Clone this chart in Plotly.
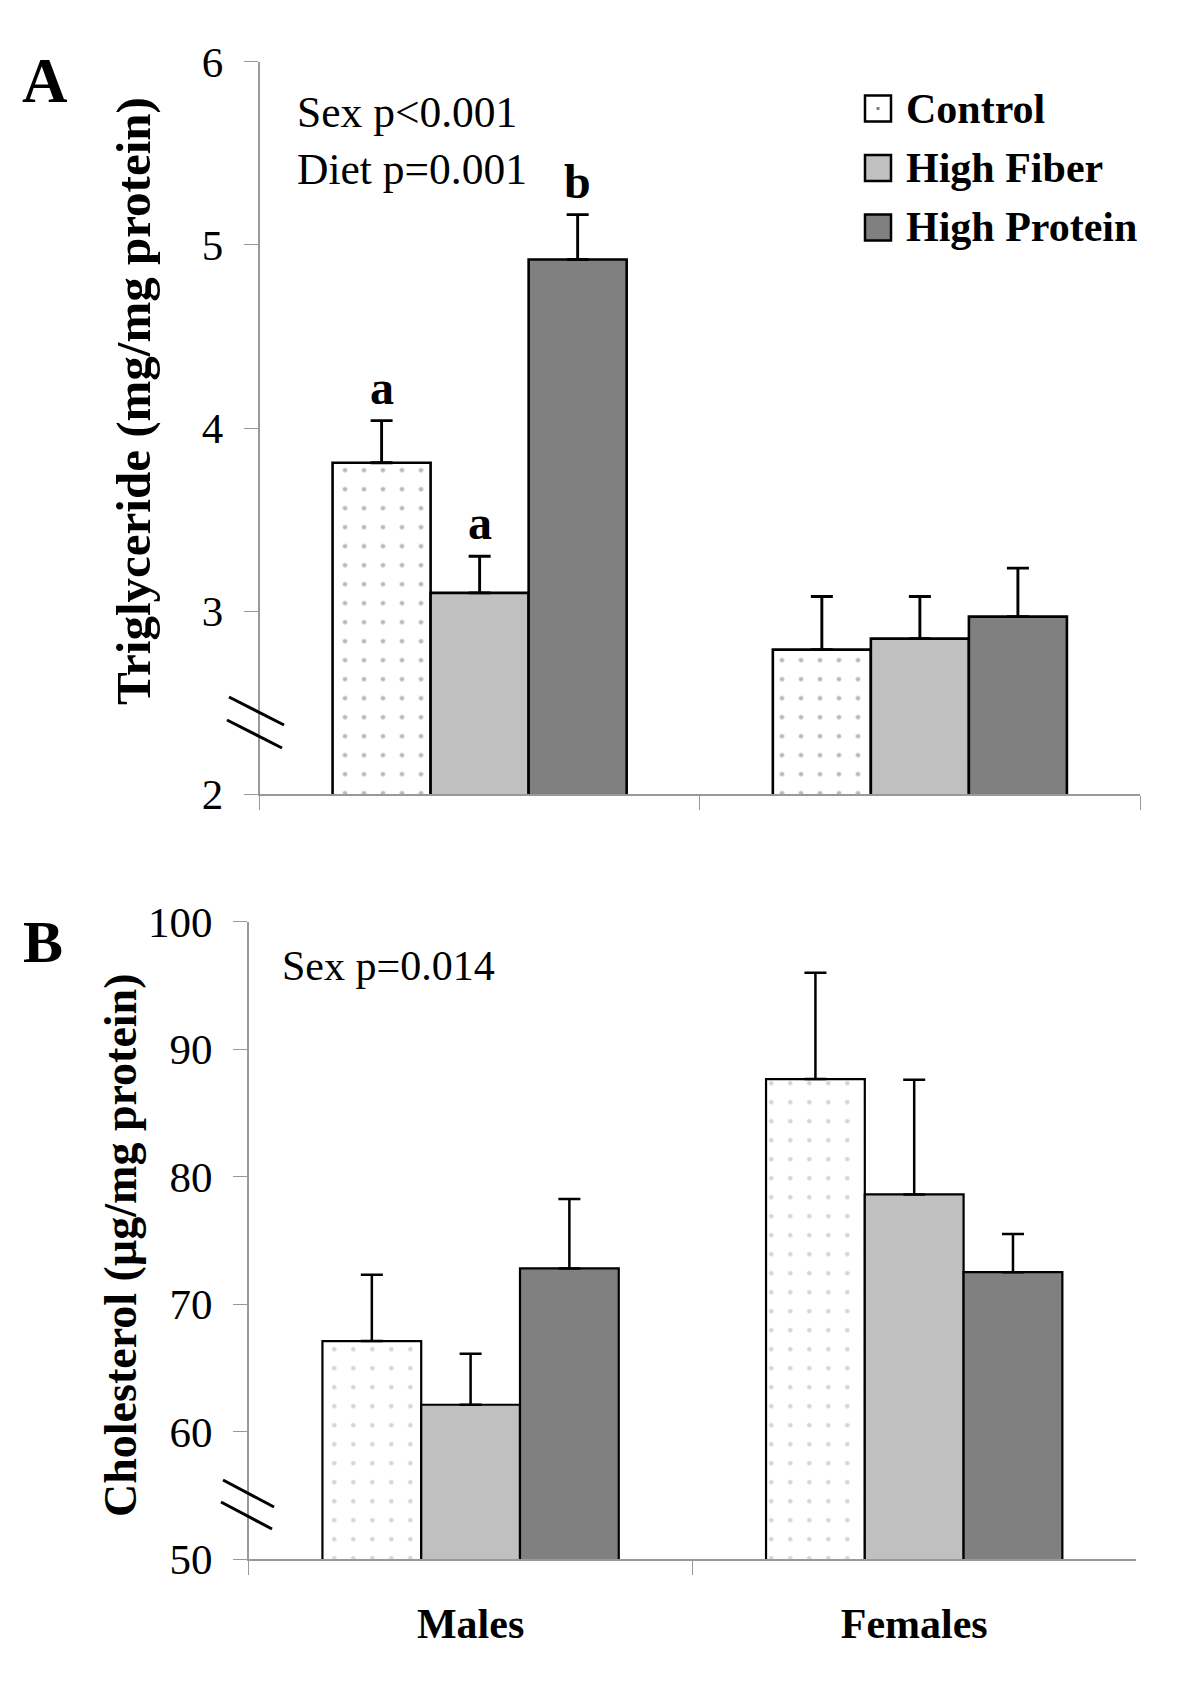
import plotly.graph_objects as go

# ---------------- data ----------------
sexes = ["Males", "Females"]
diets = ["Control", "High Fiber", "High Protein"]

# Panel A: Triglyceride (mg/mg protein)
tg_control = [3.81, 2.79]
tg_fiber = [3.10, 2.85]
tg_protein = [4.92, 2.97]
tg_control_err = [0.23, 0.29]
tg_fiber_err = [0.20, 0.23]
tg_protein_err = [0.245, 0.265]
tg_letters_males = ["a", "a", "b"]

# Panel B: Cholesterol (µg/mg protein)
ch_control = [67.1, 87.65]
ch_fiber = [62.1, 78.6]
ch_protein = [72.8, 72.5]
ch_control_err = [5.2, 8.35]
ch_fiber_err = [4.0, 9.0]
ch_protein_err = [5.45, 3.0]

tg_ticks = [2, 3, 4, 5, 6]
ch_ticks = [50, 60, 70, 80, 90, 100]

# ---------------- styling ----------------
W, H = 1200, 1691
OX, OY = 8, 8  # page body margin
SERIF = "Liberation Serif, Times New Roman, serif"
fills = ["white", "#c0c0c0", "#808080"]
AXIS_GRAY = "#999999"
BARGAP = 0.332


def px_x(p):
    return (p - OX) / W


def px_y(p):
    return 1 - (p - OY) / H


# panel geometry (pixels in the target picture)
A_x0, A_x1, A_ytop, A_ybot = 259.5, 1140.0, 61.7, 794.3
B_x0, B_x1, B_ytop, B_ybot = 248.8, 1136.0, 921.7, 1559.0

fig = go.Figure()

panelA = [(tg_control, tg_control_err), (tg_fiber, tg_fiber_err), (tg_protein, tg_protein_err)]
panelB = [(ch_control, ch_control_err), (ch_fiber, ch_fiber_err), (ch_protein, ch_protein_err)]

for panel, (xa, ya, lw, dotcol) in zip(
    [panelA, panelB], [("x", "y", 2.6, "#707070"), ("x2", "y2", 2.2, "#aaaaaa")]
):
    for i, (vals, errs) in enumerate(panel):
        marker = dict(color=fills[i], line=dict(color="black", width=lw))
        if i == 0:
            marker["pattern"] = dict(shape=".", fgcolor=dotcol, bgcolor="white",
                                     size=19, solidity=0.045)
        fig.add_trace(go.Bar(
            x=sexes, y=vals, name=diets[i], xaxis=xa, yaxis=ya,
            marker=marker, showlegend=False,
            error_y=dict(type="data", array=errs, arrayminus=[0] * len(errs),
                         symmetric=False, color="black", thickness=lw + 0.3, width=11),
        ))

axis_common = dict(showline=True, linecolor=AXIS_GRAY, linewidth=1.5,
                   ticks="outside", ticklen=14, tickcolor=AXIS_GRAY, tickwidth=1.2,
                   showgrid=False, zeroline=False, automargin=False)

fig.update_layout(
    width=W, height=H, autosize=False,
    margin=dict(l=0, r=0, t=0, b=0, autoexpand=False),
    paper_bgcolor="white", plot_bgcolor="white",
    barmode="group", bargap=BARGAP, bargroupgap=0,
    showlegend=False,
    font=dict(family=SERIF, color="black", size=40),
    xaxis=dict(domain=[px_x(A_x0), px_x(A_x1)], anchor="y", type="category",
               categoryorder="array", categoryarray=sexes,
               tickson="boundaries", showticklabels=False, **axis_common),
    yaxis=dict(domain=[px_y(A_ybot), px_y(A_ytop)], anchor="x", range=[2, 6],
               tickvals=tg_ticks, ticktext=[str(t) for t in tg_ticks],
               tickfont=dict(size=43, family=SERIF), ticklabelstandoff=12, **axis_common),
    xaxis2=dict(domain=[px_x(B_x0), px_x(B_x1)], anchor="y2", type="category",
                categoryorder="array", categoryarray=sexes,
                tickson="boundaries", tickvals=sexes,
                ticktext=["<b>%s</b>" % s for s in sexes],
                tickfont=dict(size=42, family=SERIF), ticklabelstandoff=27, **axis_common),
    yaxis2=dict(domain=[px_y(B_ybot), px_y(B_ytop)], anchor="x2", range=[50, 100],
                tickvals=ch_ticks, ticktext=[str(t) for t in ch_ticks],
                tickfont=dict(size=43, family=SERIF), ticklabelstandoff=12, **axis_common),
)

ann = []


def text(x, y, s, size, bold=False, xanchor="center", yanchor="middle", angle=0):
    ann.append(dict(xref="paper", yref="paper", x=px_x(x), y=px_y(y),
                    text=("<b>%s</b>" % s) if bold else s, showarrow=False,
                    xanchor=xanchor, yanchor=yanchor, textangle=angle,
                    font=dict(family=SERIF, size=size, color="black")))


# panel letters
text(45, 81, "A", 63, bold=True)
text(43, 942, "B", 60, bold=True)
# axis titles
text(134, 401, "Triglyceride (mg/mg protein)", 49, bold=True, angle=-90)
text(120, 1245, "Cholesterol (µg/mg protein)", 46, bold=True, angle=-90)
# statistics
text(295, 112, "Sex p<0.001", 43.5, xanchor="left")
text(295, 169, "Diet p=0.001", 43.5, xanchor="left")
text(280, 966, "Sex p=0.014", 42, xanchor="left")

# significance letters over male bars (data coordinates)
cat_px = (A_x1 - A_x0) / 2
bar_px = cat_px * (1 - BARGAP) / 3
for i, (vals, errs) in enumerate(panelA):
    ann.append(dict(xref="x", yref="y", x=sexes[0], y=vals[0] + errs[0],
                    xshift=(i - 1) * bar_px, yshift=5, text="<b>%s</b>" % tg_letters_males[i],
                    showarrow=False, yanchor="bottom",
                    font=dict(family=SERIF, size=48, color="black")))

# custom legend (large swatches)
shapes = []
leg_rows = [108.5, 168, 227.5]
for i, d in enumerate(diets):
    cy = leg_rows[i]
    shapes.append(dict(type="rect", xref="paper", yref="paper",
                       x0=px_x(865), x1=px_x(891), y0=px_y(cy + 13), y1=px_y(cy - 13),
                       fillcolor=fills[i], line=dict(color="black", width=2.5)))
    if i == 0:
        shapes.append(dict(type="rect", xref="paper", yref="paper",
                           x0=px_x(876.5), x1=px_x(879.5), y0=px_y(cy + 1.5), y1=px_y(cy - 1.5),
                           fillcolor="#808080", line=dict(width=0)))
    text(904, cy, d, 42, bold=True, xanchor="left")

# axis break marks
for (xa, xb, ya, yb) in [(229, 284, 697, 725), (227, 282, 720, 748),
                         (223, 274, 1480, 1507), (221, 272, 1502, 1529)]:
    shapes.append(dict(type="line", xref="paper", yref="paper",
                       x0=px_x(xa), x1=px_x(xb), y0=px_y(ya), y1=px_y(yb),
                       line=dict(color="black", width=3)))

fig.update_layout(annotations=ann, shapes=shapes)
fig.write_html("out.html")
